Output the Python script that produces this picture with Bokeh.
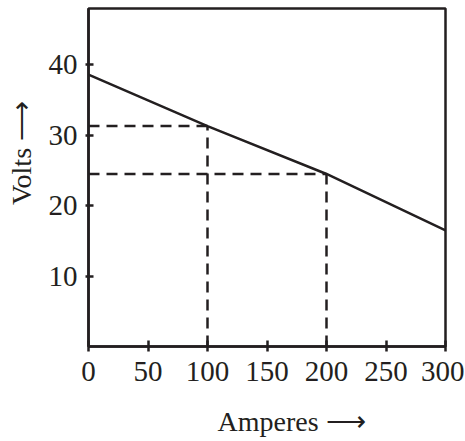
from bokeh.plotting import figure
from bokeh.models import Range1d, FixedTicker
from bokeh.embed import file_html
from bokeh.resources import INLINE

# Data
amperes = [0, 100, 200, 300]
volts = [38.6, 31.3, 24.5, 16.5]
marked_amps = [100, 200]
marked_volts = [31.3, 24.5]
x_ticks = [0, 50, 100, 150, 200, 250, 300]
y_ticks = [10, 20, 30, 40]

ink = "#231f20"
font = "Liberation Serif"
pad = "\u00a0" * 7

p = figure(width=464, height=441, output_backend="svg", toolbar_location=None,
           x_range=Range1d(0, 300), y_range=Range1d(0, 48),
           min_border_left=88, min_border_right=19, min_border_top=8,
           min_border_bottom=95)
p.grid.visible = False
p.background_fill_color = "white"
p.border_fill_color = "white"
p.outline_line_color = ink
p.outline_line_width = 2.5

p.line(amperes, volts, line_color=ink, line_width=2.5)

for a, v in zip(marked_amps, marked_volts):
    p.line([0, a], [v, v], line_color=ink, line_width=2.5, line_dash="11 7")
    p.line([a, a], [0, v], line_color=ink, line_width=2.5, line_dash="11 7")

p.xaxis.ticker = FixedTicker(ticks=x_ticks)
p.yaxis.ticker = FixedTicker(ticks=y_ticks)
p.xaxis.axis_label = pad + "Amperes \u27f6"
p.yaxis.axis_label = pad + "Volts \u27f6"

for ax in (p.xaxis, p.yaxis):
    ax.axis_line_color = ink
    ax.axis_line_width = 2.5
    ax.major_tick_line_color = ink
    ax.major_tick_line_width = 2.5
    ax.minor_tick_line_color = None
    ax.major_label_text_font = font
    ax.major_label_text_font_size = "29px"
    ax.major_label_text_color = ink
    ax.axis_label_text_font = font
    ax.axis_label_text_font_size = "28px"
    ax.axis_label_text_font_style = "normal"
    ax.axis_label_text_color = ink

p.xaxis.major_tick_in = 6
p.xaxis.major_tick_out = 5
p.xaxis.major_label_standoff = 10
p.xaxis.axis_label_standoff = 22
p.yaxis.major_tick_in = 5
p.yaxis.major_tick_out = 3
p.yaxis.major_label_standoff = 8
p.yaxis.axis_label_standoff = 9
p.yaxis.major_label_orientation = "horizontal"

open("out.html", "w").write(file_html(p, INLINE))
